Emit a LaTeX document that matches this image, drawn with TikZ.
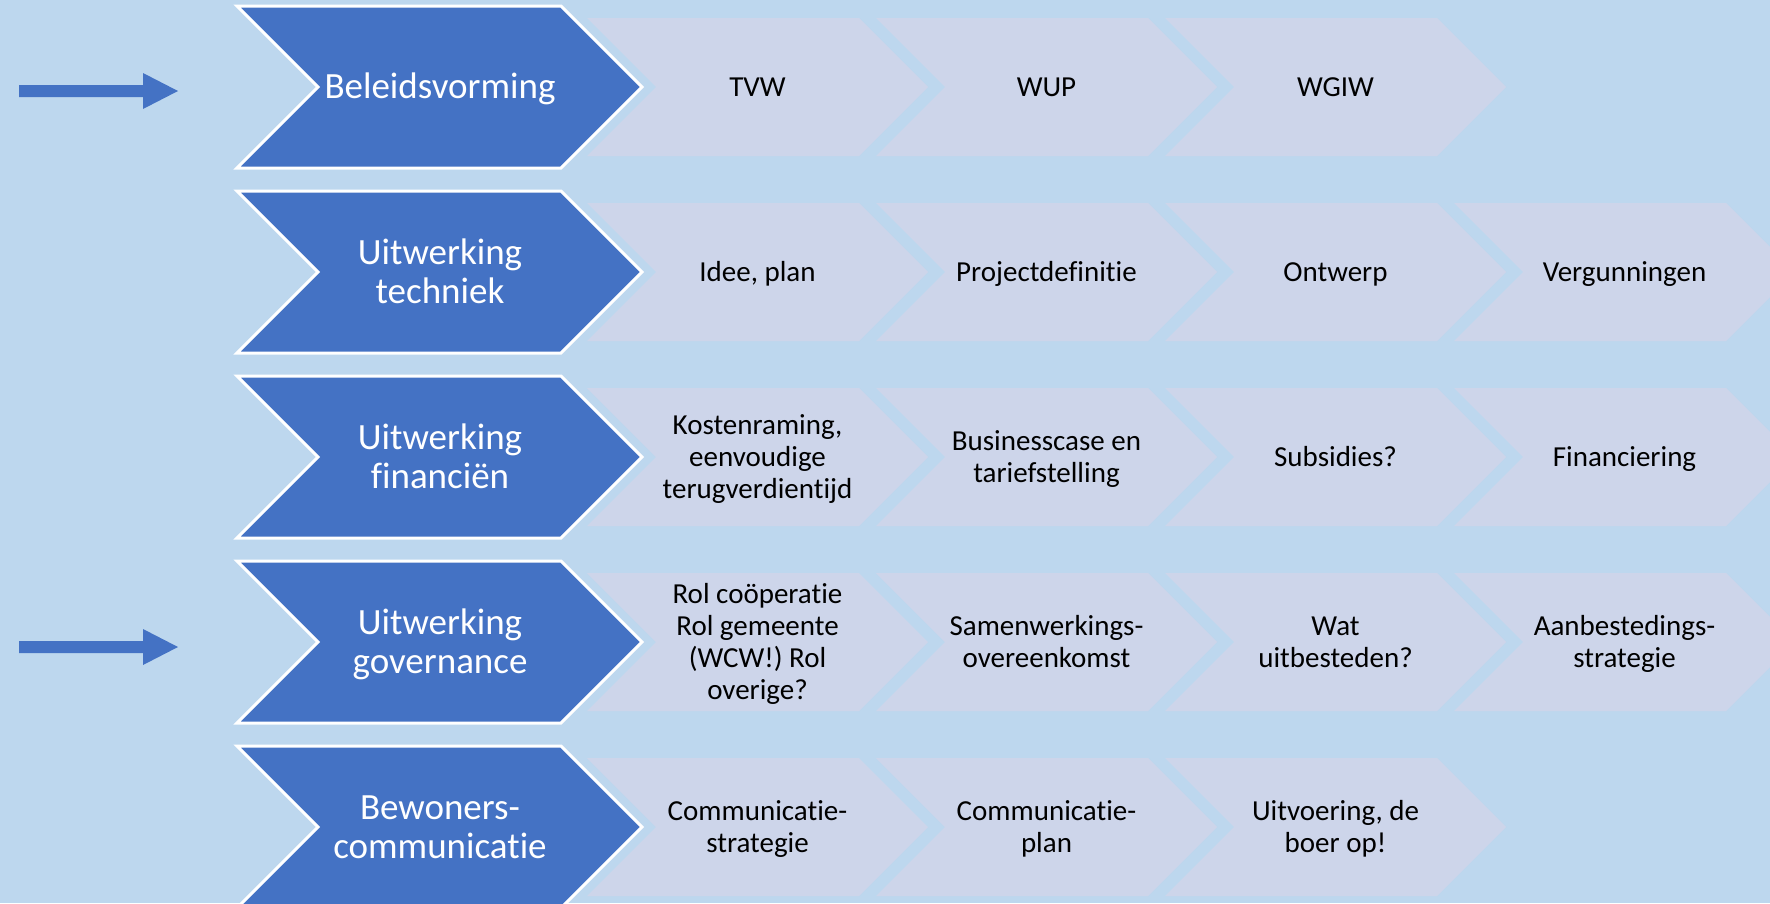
\documentclass[tikz,border=0pt]{standalone}
\usepackage{fontspec}
\setmainfont{Carlito}[Ligatures={NoCommon}]
\definecolor{bgblue}{HTML}{BDD7EE}
\definecolor{chevblue}{HTML}{4472C4}
\definecolor{chevlight}{HTML}{CDD5EA}
\newcommand\LChev[2]{% #1 = left x of top edge, #2 = centre y
  \fill[chevlight] (#1,#2-69) -- ++(272,0) -- ++(69,69) -- ++(-69,69) -- ++(-272,0) -- ++(69,-69) -- cycle;}
\newcommand\BChev[1]{% #1 = centre y
  \draw[bluechev] (237,#1-81) -- (561,#1-81) -- (642,#1) -- (561,#1+81) -- (237,#1+81) -- (318,#1) -- cycle;}
\newcommand\BArrow[1]{% #1 = centre y
  \fill[chevblue] (19,#1-6) -- (143,#1-6) -- (143,#1-18) -- (178,#1) -- (143,#1+18) -- (143,#1+6) -- (19,#1+6) -- cycle;}
\newcommand\Tstr{\rule{0pt}{0.9em}}
\newcommand\Bstr{\rule[-0.26em]{0pt}{0.26em}}
\begin{document}
\begin{tikzpicture}[x=1pt,y=-1pt,
  bluechev/.style={fill=chevblue, draw=white, line width=3pt, line join=miter},
  txtbase/.style={align=center, inner sep=0pt},
  headtxt/.style={txtbase, text=white, font=\fontsize{37}{39.5}\selectfont},
  steptxt/.style={txtbase, text=black, font=\fontsize{29}{32}\selectfont}]
\fill[bgblue] (0,0) rectangle (1770,903);
\useasboundingbox (0,0) rectangle (1770,903);
\clip (0,0) rectangle (1770,903);
% light step chevrons
\foreach \k in {0,1,2} {\LChev{587+289*\k}{87}}
\foreach \k in {0,1,2,3} {\LChev{587+289*\k}{272}}
\foreach \k in {0,1,2,3} {\LChev{587+289*\k}{457}}
\foreach \k in {0,1,2,3} {\LChev{587+289*\k}{642}}
\foreach \k in {0,1,2} {\LChev{587+289*\k}{827}}
% blue heading chevrons
\BChev{87}
\BChev{272}
\BChev{457}
\BChev{642}
\BChev{827}
% block arrows
\BArrow{91}
\BArrow{647}
% heading texts
\node[headtxt] (h1) at (440,87) {\Tstr Beleidsvorming\Bstr};
\node[headtxt] (h2) at (440,272) {\Tstr Uitwerking\\techniek\Bstr};
\node[headtxt] (h3) at (440,457) {\Tstr Uitwerking\\financiën\Bstr};
\node[headtxt] (h4) at (440,642) {\Tstr Uitwerking\\governance\Bstr};
\node[headtxt] (h5) at (440,827) {\Tstr Bewoners-\\communicatie\Bstr};
% row 1
\node[steptxt] (s11) at (757.5,87) {\Tstr TVW\Bstr};
\node[steptxt] (s12) at (1046.5,87) {\Tstr WUP\Bstr};
\node[steptxt] (s13) at (1335.5,87) {\Tstr WGIW\Bstr};
% row 2
\node[steptxt] (s21) at (757.5,272) {\Tstr Idee, plan\Bstr};
\node[steptxt] (s22) at (1046.5,272) {\Tstr Projectdefinitie\Bstr};
\node[steptxt] (s23) at (1335.5,272) {\Tstr Ontwerp\Bstr};
\node[steptxt] (s24) at (1624.5,272) {\Tstr Vergunningen\Bstr};
% row 3
\node[steptxt] (s31) at (757.5,457) {\Tstr Kostenraming,\\eenvoudige\\terugverdientijd\Bstr};
\node[steptxt] (s32) at (1046.5,457) {\Tstr Businesscase en\\tariefstelling\Bstr};
\node[steptxt] (s33) at (1335.5,457) {\Tstr Subsidies?\Bstr};
\node[steptxt] (s34) at (1624.5,457) {\Tstr Financiering\Bstr};
% row 4
\node[steptxt] (s41) at (757.5,642) {\Tstr Rol coöperatie\\Rol gemeente\\(WCW!) Rol\\overige?\Bstr};
\node[steptxt] (s42) at (1046.5,642) {\Tstr Samenwerkings-\\overeenkomst\Bstr};
\node[steptxt] (s43) at (1335.5,642) {\Tstr Wat\\uitbesteden?\Bstr};
\node[steptxt] (s44) at (1624.5,642) {\Tstr Aanbestedings-\\strategie\Bstr};
% row 5
\node[steptxt] (s51) at (757.5,827) {\Tstr Communicatie-\\strategie\Bstr};
\node[steptxt] (s52) at (1046.5,827) {\Tstr Communicatie-\\plan\Bstr};
\node[steptxt] (s53) at (1335.5,827) {\Tstr Uitvoering, de\\boer op!\Bstr};
\end{tikzpicture}
\end{document}
